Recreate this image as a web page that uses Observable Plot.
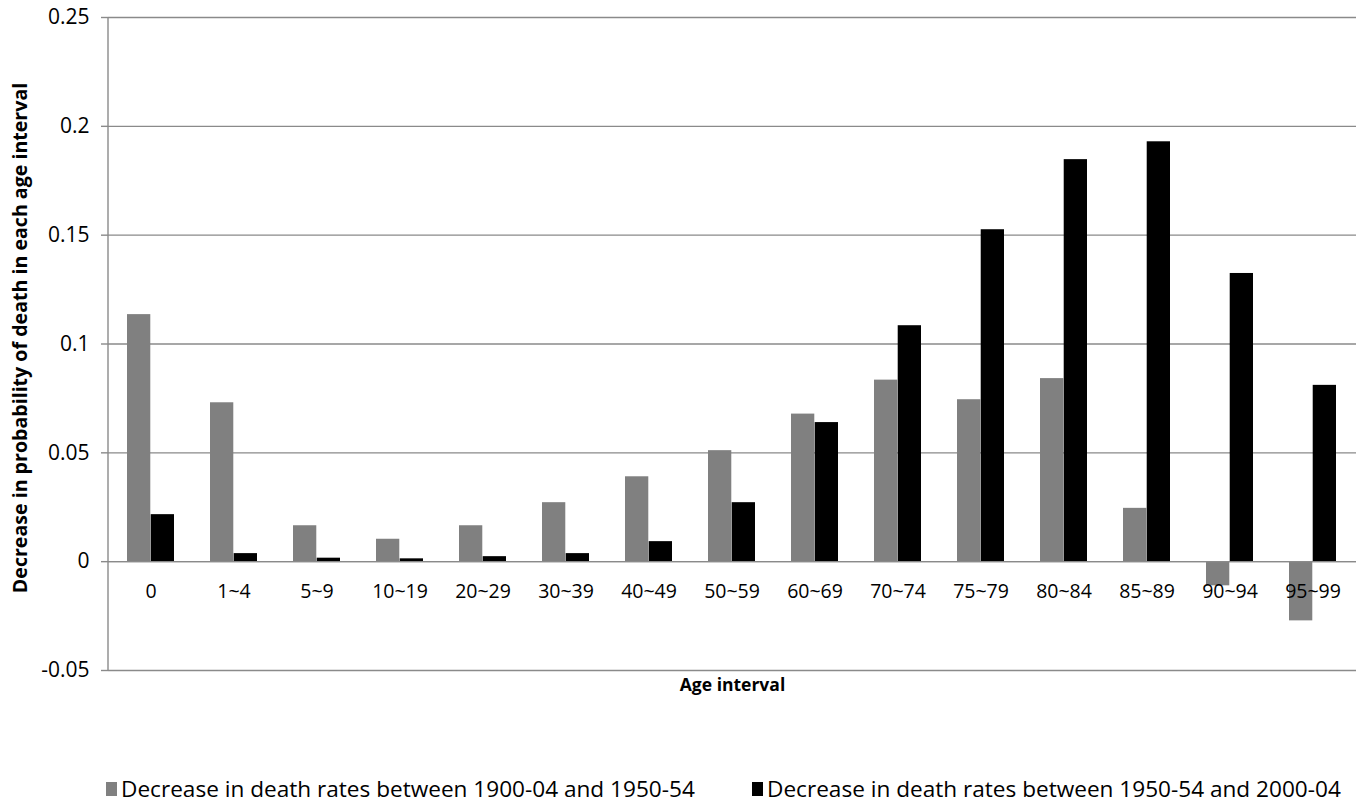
<!DOCTYPE html>
<html>
<head>
<meta charset="utf-8">
<script src="https://cdn.jsdelivr.net/npm/d3@7"></script>
<script src="https://cdn.jsdelivr.net/npm/@observablehq/plot@0.6"></script>
<style>
  body { margin: 0; background: #fff; font-family: "Open Sans", sans-serif; }
  #legend { position: absolute; left: 0; top: 773px; width: 1360px; height: 30px; font-size: 22.6px; color: #000; }
  .item { position: absolute; top: 0; display: flex; align-items: center; white-space: nowrap; }
  .sw { width: 11px; height: 14px; margin-right: 4px; }
</style>
</head>
<body>
<div id="chart"></div>
<div id="legend"></div>
<script>
const categories = ["0","1~4","5~9","10~19","20~29","30~39","40~49","50~59","60~69","70~74","75~79","80~84","85~89","90~94","95~99"];
const seriesNames = ["Decrease in death rates between 1900-04 and 1950-54", "Decrease in death rates between 1950-54 and 2000-04"];
const series1 = [0.1135, 0.073, 0.0165, 0.0103, 0.0165, 0.0271, 0.039, 0.051, 0.0678, 0.0834, 0.0744, 0.0841, 0.0245, -0.0111, -0.0272];
const series2 = [0.0216, 0.0037, 0.0016, 0.0013, 0.0023, 0.0037, 0.0092, 0.0271, 0.0639, 0.1084, 0.1525, 0.1847, 0.1929, 0.1324, 0.081];
const yTicks = [-0.05, 0, 0.05, 0.1, 0.15, 0.2, 0.25];
const colors = ["#808080", "#000000"];
const yLabel = "Decrease in probability of death in each age interval";
const xLabel = "Age interval";

const width = 1360, marginLeft = 108, marginRight = 4;
const paddingInner = 0.43;
const step = (width - marginLeft - marginRight) / categories.length;
const half = step * (1 - paddingInner) / 2;

const data1 = categories.map((c, i) => ({cat: c, v: series1[i]}));
const data2 = categories.map((c, i) => ({cat: c, v: series2[i]}));
const gridColor = "#8a8a8a";

const plot = Plot.plot({
  width, height: 710,
  marginLeft, marginRight, marginTop: 17, marginBottom: 40,
  style: {fontFamily: "'Open Sans', sans-serif", fontSize: "18px", color: "#000", background: "#fff"},
  x: {domain: categories, paddingInner, paddingOuter: paddingInner / 2, axis: null},
  y: {domain: [-0.05, 0.25], axis: null},
  marks: [
    Plot.gridY(yTicks, {stroke: gridColor, strokeOpacity: 1, strokeWidth: 1.4}),
    Plot.axisY(yTicks, {tickFormat: d => String(+d.toFixed(2)), tickSize: 7, tickPadding: 12, fontSize: 21, stroke: gridColor, strokeWidth: 1.4, label: null}),
    Plot.barY(data1, {x: "cat", y: "v", fill: colors[0], insetRight: half, insetLeft: 0}),
    Plot.barY(data2, {x: "cat", y: "v", fill: colors[1], insetLeft: half, insetRight: 0}),
    Plot.ruleY([0], {stroke: gridColor, strokeWidth: 1.4}),
    Plot.text(categories, {x: d => d, y: () => 0, dy: 30, text: d => d, fontSize: 19.5, fill: "#000"}),
    Plot.text([yLabel], {frameAnchor: "left", textAnchor: "middle", rotate: -90, dx: -88, dy: -6, fontWeight: "bold", fontSize: 19.6, fill: "#000"}),
    Plot.text([xLabel], {frameAnchor: "bottom", dy: 20, fontWeight: "bold", fontSize: 17.5, fill: "#000"})
  ]
});

// vertical axis line drawn from the plot's own scales
const ys = plot.scale("y");
const xs = plot.scale("x");
const x0 = xs.range[0];
d3.select(plot).append("line")
  .attr("x1", x0).attr("x2", x0)
  .attr("y1", ys.apply(ys.domain[0])).attr("y2", ys.apply(ys.domain[1]))
  .attr("stroke", gridColor).attr("stroke-width", 1.4);

document.getElementById("chart").appendChild(plot);

const legend = d3.select("#legend");
const lefts = [106, 752];
seriesNames.forEach((name, i) => {
  const item = legend.append("div").attr("class", "item").style("left", lefts[i] + "px");
  item.append("div").attr("class", "sw").style("background", colors[i]);
  item.append("span").text(name);
});
</script>
</body>
</html>
